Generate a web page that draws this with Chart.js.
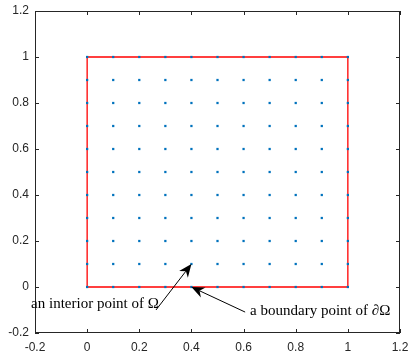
<!DOCTYPE html>
<html>
<head>
<meta charset="utf-8">
<script src="https://cdn.jsdelivr.net/npm/chart.js@4"></script>
<style>
html,body{margin:0;padding:0;background:#fff;}
#c{display:block;}
</style>
</head>
<body>
<canvas id="c" width="409" height="354"></canvas>
<script>
// ---- data ----
const gridX = [0, 0.1, 0.2, 0.3, 0.4, 0.5, 0.6, 0.7, 0.8, 0.9, 1];
const gridY = [0, 0.1, 0.2, 0.3, 0.4, 0.5, 0.6, 0.7, 0.8, 0.9, 1];
const boundaryX = [0, 1, 1, 0, 0];
const boundaryY = [0, 0, 1, 1, 0];
const xTickValues = [-0.2, 0, 0.2, 0.4, 0.6, 0.8, 1, 1.2];
const xTickLabels = ['-0.2', '0', '0.2', '0.4', '0.6', '0.8', '1', '1.2'];
const yTickValues = [-0.2, 0, 0.2, 0.4, 0.6, 0.8, 1, 1.2];
const yTickLabels = ['-0.2', '0', '0.2', '0.4', '0.6', '0.8', '1', '1.2'];
const annotationTexts = ['an interior point of \u03A9', 'a boundary point of \u2202\u03A9'];
const annotationTextX = [-0.215, 0.625];
const annotationTextY = [-0.074, -0.104];
const arrowTailX = [0.264, 0.606];
const arrowTailY = [-0.1, -0.109];
const arrowHeadX = [0.4, 0.4];
const arrowHeadY = [0.1, 0.0];

// build point table
const gridPoints = [];
gridY.forEach(y => gridX.forEach(x => gridPoints.push({x, y})));
const boundaryPoints = boundaryX.map((x, i) => ({x, y: boundaryY[i]}));

const AXIS_COLOR = '#262626';

const decorPlugin = {
  id: 'decor',
  afterDatasetsDraw(chart) {
    const ctx = chart.ctx;
    const a = chart.chartArea;
    const xs = chart.scales.x, ys = chart.scales.y;
    ctx.save();
    // box
    ctx.strokeStyle = AXIS_COLOR;
    ctx.lineWidth = 1;
    ctx.strokeRect(Math.round(a.left) + 0.5, Math.round(a.top) + 0.5,
                   Math.round(a.right - a.left) - 1, Math.round(a.bottom - a.top) - 1);
    // inside ticks
    const tl = 4;
    ctx.beginPath();
    xTickValues.forEach(v => {
      const px = Math.round(xs.getPixelForValue(v)) + 0.5;
      ctx.moveTo(px, a.bottom); ctx.lineTo(px, a.bottom - tl);
      ctx.moveTo(px, a.top); ctx.lineTo(px, a.top + tl);
    });
    yTickValues.forEach(v => {
      const py = Math.round(ys.getPixelForValue(v)) + 0.5;
      ctx.moveTo(a.left, py); ctx.lineTo(a.left + tl, py);
      ctx.moveTo(a.right, py); ctx.lineTo(a.right - tl, py);
    });
    ctx.stroke();

    // arrows
    ctx.strokeStyle = '#000';
    ctx.fillStyle = '#000';
    for (let i = 0; i < arrowTailX.length; i++) {
      const x0 = xs.getPixelForValue(arrowTailX[i]);
      const y0 = ys.getPixelForValue(arrowTailY[i]);
      const x1 = xs.getPixelForValue(arrowHeadX[i]);
      const y1 = ys.getPixelForValue(arrowHeadY[i]);
      const ang = Math.atan2(y1 - y0, x1 - x0);
      const hl = 13, hw = 5.5, notch = 9;
      const bx = x1 - hl * Math.cos(ang), by = y1 - hl * Math.sin(ang);
      const nx = x1 - notch * Math.cos(ang), ny = y1 - notch * Math.sin(ang);
      ctx.lineWidth = 1;
      ctx.beginPath();
      ctx.moveTo(x0, y0); ctx.lineTo(nx, ny);
      ctx.stroke();
      ctx.beginPath();
      ctx.moveTo(x1, y1);
      ctx.lineTo(bx + hw * Math.sin(ang), by - hw * Math.cos(ang));
      ctx.lineTo(nx, ny);
      ctx.lineTo(bx - hw * Math.sin(ang), by + hw * Math.cos(ang));
      ctx.closePath();
      ctx.fill();
    }
    // annotation texts
    ctx.font = '15px "Liberation Serif", serif';
    ctx.textAlign = 'left';
    ctx.textBaseline = 'middle';
    ctx.fillStyle = '#000';
    annotationTexts.forEach((t, i) => {
      ctx.fillText(t, xs.getPixelForValue(annotationTextX[i]), ys.getPixelForValue(annotationTextY[i]));
    });
    ctx.restore();
  }
};

new Chart(document.getElementById('c'), {
  type: 'scatter',
  data: {
    datasets: [
      {
        label: 'points',
        data: gridPoints,
        backgroundColor: '#0072BD',
        borderColor: '#0072BD',
        pointRadius: 1.6,
        pointBorderWidth: 0,
        pointStyle: 'rect',
        showLine: false,
        order: 0
      },
      {
        label: 'boundary',
        data: boundaryPoints,
        borderColor: '#FF0000',
        borderWidth: 1.3,
        pointRadius: 0,
        showLine: true,
        fill: false,
        order: 1
      }
    ]
  },
  options: {
    responsive: false,
    animation: false,
    layout: { padding: { top: 11, right: 9, left: 0, bottom: 0 } },
    plugins: { legend: { display: false }, tooltip: { enabled: false } },
    scales: {
      x: {
        type: 'linear',
        min: -0.2, max: 1.2,
        grid: { display: false, drawTicks: false },
        border: { display: false },
        afterBuildTicks: s => { s.ticks = xTickValues.map(v => ({value: v})); },
        afterFit: s => { s.height = 21; s.paddingLeft = 0; s.paddingRight = 0; },
        ticks: {
          color: AXIS_COLOR,
          font: { family: '"Liberation Sans", Arial, sans-serif', size: 12 },
          padding: 7,
          maxRotation: 0,
          autoSkip: false,
          callback: (v, i) => xTickLabels[i]
        }
      },
      y: {
        type: 'linear',
        min: -0.2, max: 1.2,
        grid: { display: false, drawTicks: false },
        border: { display: false },
        afterBuildTicks: s => { s.ticks = yTickValues.map(v => ({value: v})); },
        afterFit: s => { s.width = 35; s.paddingTop = 0; s.paddingBottom = 0; },
        ticks: {
          color: AXIS_COLOR,
          font: { family: '"Liberation Sans", Arial, sans-serif', size: 12 },
          padding: 6,
          autoSkip: false,
          callback: (v, i) => yTickLabels[i]
        }
      }
    }
  },
  plugins: [decorPlugin]
});
</script>
</body>
</html>
